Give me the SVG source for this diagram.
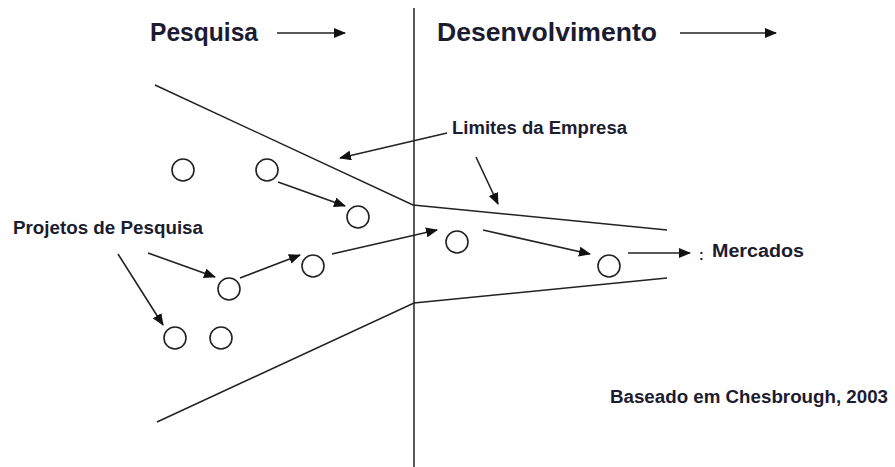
<svg xmlns="http://www.w3.org/2000/svg" width="895" height="467" viewBox="0 0 895 467">
<style>
.t{font-family:"Liberation Sans",Arial,sans-serif;font-weight:bold;fill:#1c1c30}
.b{fill:none;stroke:#222;stroke-width:1.5}
.c{fill:#fff;stroke:#222;stroke-width:1.6}
.a{fill:none;stroke:#222;stroke-width:1.6;marker-end:url(#ah)}
</style>
<defs>
<marker id="ah" markerWidth="12" markerHeight="10" refX="11" refY="5" orient="auto" markerUnits="userSpaceOnUse">
<path d="M0,0 L12,5 L0,10 Z" fill="#111"/>
</marker>
</defs>
<rect width="895" height="467" fill="#fff"/>
<g id="labels">
<text class="t" x="150" y="41" font-size="26" textLength="108" lengthAdjust="spacingAndGlyphs">Pesquisa</text>
<text class="t" x="437" y="41" font-size="26" textLength="220" lengthAdjust="spacingAndGlyphs">Desenvolvimento</text>
<text class="t" x="452" y="134" font-size="18" textLength="175" lengthAdjust="spacingAndGlyphs">Limites da Empresa</text>
<text class="t" x="13" y="234" font-size="18" textLength="190" lengthAdjust="spacingAndGlyphs">Projetos de Pesquisa</text>
<text class="t" x="699" y="260" font-size="14">:</text>
<text class="t" x="712" y="257" font-size="18" textLength="92" lengthAdjust="spacingAndGlyphs">Mercados</text>
<text class="t" x="610" y="403" font-size="18" textLength="278" lengthAdjust="spacingAndGlyphs">Baseado em Chesbrough, 2003</text>
</g>
<g id="boundaries">
<line class="b" x1="414" y1="8" x2="414" y2="467" stroke-width="1.8"/>
<polyline class="b" points="155,85 413,205 667,230"/>
<polyline class="b" points="157,422 414,303 667,278"/>
</g>
<g id="projects">
<circle class="c" cx="183" cy="170" r="11"/>
<circle class="c" cx="267" cy="170" r="11"/>
<circle class="c" cx="358" cy="217" r="11"/>
<circle class="c" cx="229" cy="289" r="11"/>
<circle class="c" cx="313" cy="266" r="11"/>
<circle class="c" cx="457" cy="242" r="11"/>
<circle class="c" cx="609" cy="266" r="11"/>
<circle class="c" cx="175" cy="338" r="11"/>
<circle class="c" cx="221" cy="338" r="11"/>
</g>
<g id="connectors">
<line class="a" x1="277" y1="33" x2="345" y2="33"/>
<line class="a" x1="680" y1="33" x2="776" y2="33"/>
<line class="a" x1="447" y1="133" x2="340" y2="158"/>
<line class="a" x1="476" y1="157" x2="498" y2="204"/>
<line class="a" x1="278" y1="182" x2="345" y2="206"/>
<line class="a" x1="148" y1="253" x2="215" y2="277"/>
<line class="a" x1="118" y1="254" x2="163" y2="325"/>
<line class="a" x1="240" y1="278" x2="300" y2="255"/>
<line class="a" x1="332" y1="254" x2="437" y2="230"/>
<line class="a" x1="483" y1="230" x2="590" y2="254"/>
<line class="a" x1="628" y1="253" x2="690" y2="253"/>
</g>
</svg>
